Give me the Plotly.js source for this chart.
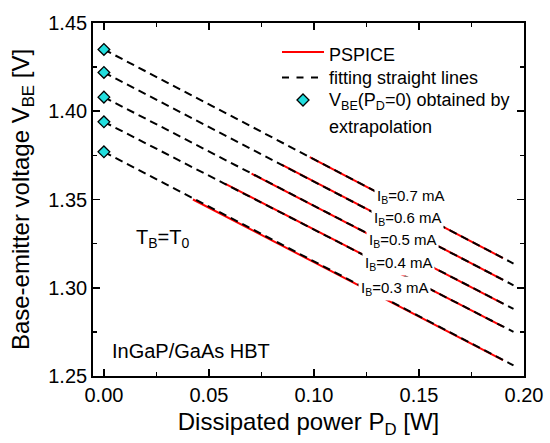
<!DOCTYPE html>
<html>
<head>
<meta charset="utf-8">
<script src="https://cdn.plot.ly/plotly-3.0.1.min.js"></script>
<style>
html,body{margin:0;padding:0;background:#fff;}
#chart{width:550px;height:443px;}
</style>
</head>
<body>
<div id="chart"></div>
<script>
// Base currents (mA)
var currents = ['0.3', '0.4', '0.5', '0.6', '0.7'];
// V_BE at P_D = 0 obtained by extrapolation [V]
var pd0 = [0, 0, 0, 0, 0];
var vbe0 = [1.377, 1.394, 1.408, 1.422, 1.435];
// Fitting straight lines: end point
var fitEndP = 0.195;
var fitEndV = [1.2560, 1.2750, 1.2880, 1.3014, 1.3137];
// PSPICE curves: start and end points
var spiceStartP = [0.0424, 0.0576, 0.0703, 0.0846, 0.0980];
var spiceStartV = [1.3500, 1.3590, 1.3646, 1.3698, 1.3740];
var spiceEndP = 0.190;
var spiceEndV = [1.2590, 1.2780, 1.2910, 1.3045, 1.3168];
// axis tick values
var xMajor = [0.00, 0.05, 0.10, 0.15, 0.20];
var yMajor = [1.25, 1.30, 1.35, 1.40, 1.45];
// legend texts
var legendTexts = ['PSPICE', 'fitting straight lines', 'V<sub>BE</sub>(P<sub>D</sub>=0) obtained by', 'extrapolation'];

var FONT = 'Liberation Sans, Arial, Helvetica, sans-serif';
var RED = '#ff0000', CYAN = '#22dede';
var traces = [];
currents.forEach(function (c, i) {
  traces.push({
    type: 'scatter', mode: 'lines',
    x: [spiceStartP[i], spiceEndP], y: [spiceStartV[i], spiceEndV[i]],
    line: {color: RED, width: 2},
    name: 'PSPICE I<sub>B</sub>=' + c + ' mA', showlegend: false, hoverinfo: 'skip'
  });
});
currents.forEach(function (c, i) {
  traces.push({
    type: 'scatter', mode: 'lines',
    x: [pd0[i], fitEndP], y: [vbe0[i], fitEndV[i]],
    line: {color: '#000000', width: 2, dash: '8px,5px'},
    name: 'fit I<sub>B</sub>=' + c + ' mA', showlegend: false, hoverinfo: 'skip'
  });
});
traces.push({
  type: 'scatter', mode: 'markers',
  x: pd0, y: vbe0,
  marker: {symbol: 'diamond', size: 9, color: CYAN, line: {color: '#000', width: 1.3}},
  name: 'V<sub>BE</sub>(P<sub>D</sub>=0)', showlegend: false,
  cliponaxis: false
});

function px2x(p) { return (p - 93) / 431; }
function px2y(p) { return (376 - p) / 353; }

// curve labels (data coords of box left / middle)
var labelX = [0.1208, 0.1227, 0.1248, 0.1270, 0.1284];
var labelY = [1.2995, 1.3135, 1.3265, 1.3390, 1.3515];
var annotations = currents.map(function (c, i) {
  return {
    xref: 'x', yref: 'y', x: labelX[i], y: labelY[i],
    xanchor: 'left', yanchor: 'middle', showarrow: false,
    text: 'I<sub>B</sub>=' + c + ' mA',
    font: {family: FONT, size: 15, color: '#000'},
    bgcolor: '#ffffff', borderpad: 2
  };
});
annotations.push({
  xref: 'paper', yref: 'paper', x: px2x(134), y: px2y(239),
  xanchor: 'left', yanchor: 'middle', showarrow: false,
  text: 'T<sub>B</sub>=T<sub>0</sub>',
  font: {family: FONT, size: 20, color: '#000'}
});
annotations.push({
  xref: 'paper', yref: 'paper', x: px2x(110), y: px2y(351),
  xanchor: 'left', yanchor: 'middle', showarrow: false,
  text: 'InGaP/GaAs HBT',
  font: {family: FONT, size: 20, color: '#000'}
});
// legend texts
var legY = [55, 78, 101, 127];
legendTexts.forEach(function (t, i) {
  annotations.push({
    xref: 'paper', yref: 'paper', x: px2x(327), y: px2y(legY[i]),
    xanchor: 'left', yanchor: 'middle', showarrow: false,
    text: t, font: {family: FONT, size: 18, color: '#000'}
  });
});

var shapes = [
  {type: 'line', xref: 'paper', yref: 'paper', x0: px2x(282), x1: px2x(324), y0: px2y(52), y1: px2y(52),
   line: {color: RED, width: 2}},
  {type: 'line', xref: 'paper', yref: 'paper', x0: px2x(282), x1: px2x(324), y0: px2y(77.5), y1: px2y(77.5),
   line: {color: '#000', width: 2, dash: '7px,7.5px'}},
  {type: 'path', xref: 'paper', yref: 'paper', xsizemode: 'pixel', ysizemode: 'pixel',
   xanchor: px2x(303), yanchor: px2y(100),
   path: 'M-6,0L0,6L6,0L0,-6Z', fillcolor: CYAN, line: {color: '#000', width: 1.3}}
];

var axisCommon = {
  showgrid: false, zeroline: false,
  showline: true, linecolor: '#000000', linewidth: 1.8, mirror: 'allticks',
  ticks: 'inside', ticklen: 7, tickwidth: 1.6, tickcolor: '#000000',
  tickfont: {family: FONT, size: 20, color: '#000'},
  tickformat: '.2f', dtick: 0.05
};
var minorCommon = {ticks: 'inside', ticklen: 4, tickwidth: 1.6, tickcolor: '#000000', dtick: 0.025};

var layout = {
  width: 550, height: 443,
  margin: {l: 93, r: 26, t: 23, b: 67},
  paper_bgcolor: '#ffffff', plot_bgcolor: '#ffffff',
  font: {family: FONT, color: '#000'},
  showlegend: false,
  xaxis: Object.assign({}, axisCommon, {
    range: [-0.0052, 0.2], tick0: xMajor[0],
    minor: Object.assign({}, minorCommon),
    title: {text: 'Dissipated power P<sub>D</sub> [W]', font: {family: FONT, size: 24, color: '#000'}, standoff: 8}
  }),
  yaxis: Object.assign({}, axisCommon, {
    range: [yMajor[0], yMajor[yMajor.length - 1]], tick0: yMajor[0],
    minor: Object.assign({}, minorCommon),
    title: {text: 'Base-emitter voltage V<sub>BE</sub> [V]', font: {family: FONT, size: 24, color: '#000'}, standoff: 12}
  }),
  annotations: annotations,
  shapes: shapes
};

Plotly.newPlot('chart', traces, layout, {displayModeBar: false, staticPlot: true});
</script>
</body>
</html>
